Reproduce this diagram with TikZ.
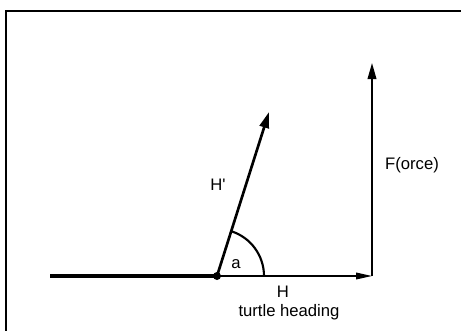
\documentclass[tikz,border=0pt]{standalone}
\usepackage{fontspec}
\setmainfont{Liberation Sans}
\usepackage{tikz}
\usetikzlibrary{arrows.meta, positioning}
\tikzset{
  lbl/.style={inner sep=0pt, font=\fontsize{12.5}{14}\selectfont},
  vec/.style={line width=1.1pt, -{Triangle[length=12pt, width=5pt]}},
  bigvec/.style={line width=2pt, -{Triangle[length=12pt, width=7pt]}},
  frame/.style={line width=1.5pt}
}
\begin{document}
\begin{tikzpicture}[x=0.75pt, y=0.75pt]
\useasboundingbox (0,0) rectangle (461,330);
% Frame
\draw[frame] (465,319) -- (6,319) -- (6,-5);

% Points
\coordinate (start) at (50,54);
\coordinate (turtle) at (217,54);
\coordinate (htip) at (372,54);
\coordinate (ftip) at (372,267);
\coordinate (hptip) at (269,218);

% Old path and turtle
\draw[line width=3pt] (start) -- (turtle);
\fill (turtle) circle (4);

% Heading vectors
\draw[vec] (turtle) -- (htip);
\draw[vec, -{Triangle[length=12pt, width=6.5pt]}] (htip) -- (ftip);
\draw[bigvec] (turtle) -- (hptip);

% Angle
\draw[line width=1.6pt] ([xshift=47*0.75pt]turtle) arc (0:72.7:47);

% Labels
\node[lbl] (alabel) at (236,66) {a};
\node[lbl] (hplabel) at (218,145) {H\textquotesingle};
\node[lbl] (flabel) at (412,165) {F(orce)};
\node[lbl] (hlabel) at (283,38) {H};
\node[lbl] (tlabel) at (289,18) {turtle heading};
\end{tikzpicture}
\end{document}
